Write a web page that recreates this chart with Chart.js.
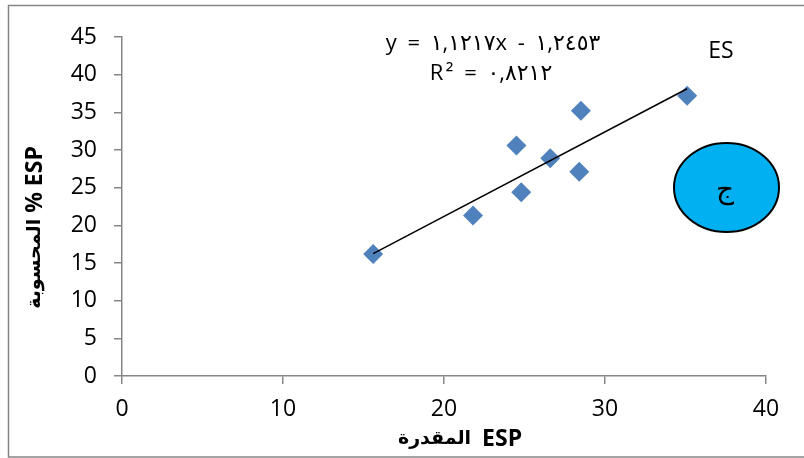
<!DOCTYPE html>
<html>
<head>
<meta charset="utf-8">
<script src="https://cdn.jsdelivr.net/npm/chart.js@4/dist/chart.umd.min.js"></script>
<style>
  html, body { margin: 0; padding: 0; background: #fff; }
  #wrap { width: 804px; height: 458px; }
</style>
</head>
<body>
<div id="wrap"><canvas id="c" width="804" height="458"></canvas></div>
<script>
// Estimated vs. calculated ESP (%) samples
const espEstimated  = [15.6, 21.8, 24.5, 24.8, 26.6, 28.5, 28.4, 35.1];
const espCalculated = [16.2, 21.3, 30.6, 24.4, 28.9, 35.2, 27.1, 37.2];

// Linear trend as reported on the chart
const trendSlope = 1.1217;
const trendIntercept = -1.2453;

const xTickValues = [0, 10, 20, 30, 40];
const yTickValues = [0, 5, 10, 15, 20, 25, 30, 35, 40, 45];

const equationText = 'y = ١,١٢١٧x - ١,٢٤٥٣';
const r2Text = 'R² = ٠,٨٢١٢';
// axis titles, listed in visual left-to-right order (Arabic word, then the Latin part)
const xTitleParts = ['المقدرة', 'ESP'];
const yTitleParts = ['المحسوبة', '% ESP'];
const panelLabel = 'ES';
const badgeLabel = 'ج';

const FONT = "'Open sans', 'DejaVu Sans', sans-serif";
const ARABIC_FONT = "'DejaVu Sans', sans-serif";
const AXIS_GREY = '#868686';

const points = espEstimated.map((x, i) => ({ x, y: espCalculated[i] }));
const xMin = Math.min(...espEstimated);
const xMax = Math.max(...espEstimated);
const trendPoints = [xMin, xMax].map(x => ({ x, y: trendSlope * x + trendIntercept }));

// Draws an Arabic word followed by a Latin run, centred on (0,0) of the current transform
function drawMixedTitle(ctx, parts, gap) {
  const fonts = ['bold 19px ' + ARABIC_FONT, 'bold 23px ' + FONT];
  const widths = parts.map((t, i) => { ctx.font = fonts[i]; return ctx.measureText(t).width; });
  const total = widths[0] + gap + widths[1];
  let x = -total / 2;
  ctx.textAlign = 'left';
  parts.forEach((t, i) => {
    ctx.font = fonts[i];
    ctx.fillText(t, x, 0);
    x += widths[i] + gap;
  });
}

const decorations = {
  id: 'decorations',
  beforeDraw(chart) {
    const ctx = chart.ctx;
    ctx.save();
    ctx.fillStyle = '#fff';
    ctx.fillRect(0, 0, chart.width, chart.height);
    ctx.strokeStyle = AXIS_GREY;
    ctx.lineWidth = 1.5;
    ctx.strokeRect(8.5, 5.5, chart.width + 10, chart.height - 6.5);
    ctx.restore();
  },
  afterDraw(chart) {
    const ctx = chart.ctx;
    const ca = chart.chartArea;
    ctx.save();
    ctx.fillStyle = '#000';
    ctx.textBaseline = 'middle';

    // axis titles
    ctx.save();
    ctx.translate((ca.left + ca.right) / 2 + 16, 439);
    drawMixedTitle(ctx, xTitleParts, 11);
    ctx.restore();
    ctx.save();
    ctx.translate(35, (ca.top + ca.bottom) / 2 + 21);
    ctx.rotate(-Math.PI / 2);
    drawMixedTitle(ctx, yTitleParts, 6);
    ctx.restore();

    ctx.textAlign = 'center';
    // trend equation
    ctx.font = '22px ' + FONT;
    ctx.letterSpacing = '2.5px';
    ctx.fillText(equationText, 493, 44);
    ctx.fillText(r2Text, 491, 74);
    ctx.letterSpacing = '0px';

    // panel label
    ctx.font = '23px ' + FONT;
    ctx.fillText(panelLabel, 721, 51);

    // panel badge
    ctx.beginPath();
    ctx.ellipse(726.5, 187.5, 52.5, 44.5, 0, 0, Math.PI * 2);
    ctx.fillStyle = '#00B0F0';
    ctx.fill();
    ctx.lineWidth = 2;
    ctx.strokeStyle = '#000';
    ctx.stroke();
    ctx.fillStyle = '#000';
    ctx.font = '28px ' + FONT;
    ctx.fillText(badgeLabel, 725, 190);
    ctx.restore();
  }
};

new Chart(document.getElementById('c'), {
  type: 'scatter',
  data: {
    datasets: [
      {
        type: 'line',
        data: trendPoints,
        borderColor: '#000',
        borderWidth: 1.5,
        pointRadius: 0,
        fill: false,
        order: 0
      },
      {
        data: points,
        pointStyle: 'rectRot',
        pointRadius: 10,
        pointHoverRadius: 10,
        backgroundColor: '#4F81BD',
        borderWidth: 0,
        order: 1
      }
    ]
  },
  options: {
    responsive: false,
    animation: false,
    events: [],
    layout: { padding: { top: 37, right: 38, left: 0, bottom: 0 } },
    plugins: { legend: { display: false }, tooltip: { enabled: false } },
    scales: {
      x: {
        type: 'linear',
        min: 0, max: 40,
        afterFit(s) { s.height = 82; },
        afterBuildTicks(s) { s.ticks = xTickValues.map(v => ({ value: v })); },
        grid: { display: true, drawOnChartArea: false, drawTicks: true, tickLength: 8, color: AXIS_GREY, lineWidth: 1.5 },
        border: { display: true, color: AXIS_GREY, width: 1.5 },
        ticks: { color: '#000', font: { family: FONT, size: 23 }, padding: 12, maxRotation: 0 }
      },
      y: {
        type: 'linear',
        min: 0, max: 45,
        afterFit(s) { s.width = 122; },
        afterBuildTicks(s) { s.ticks = yTickValues.map(v => ({ value: v })); },
        grid: { display: true, drawOnChartArea: false, drawTicks: true, tickLength: 8, color: AXIS_GREY, lineWidth: 1.5 },
        border: { display: true, color: AXIS_GREY, width: 1.5 },
        ticks: { color: '#000', font: { family: FONT, size: 23 }, padding: 17 }
      }
    }
  },
  plugins: [decorations]
});
</script>
</body>
</html>
